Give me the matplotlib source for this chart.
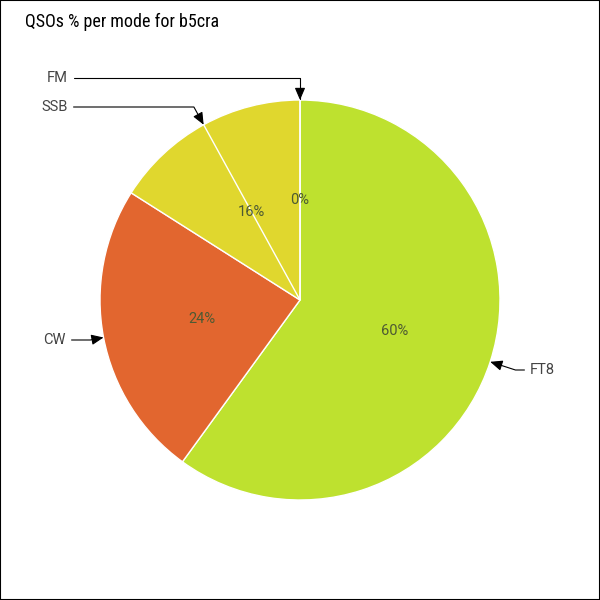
import numpy as np
import matplotlib
matplotlib.use("Agg")
import matplotlib.pyplot as plt
from matplotlib.patches import Rectangle

# datos del grafico
modos = ["FT8", "CW", "SSB", "FM"]
porcentajes = [60, 24, 16, 0]
colores = ["#bee12f", "#e2662f", "#e0d72e", "#e0d72e"]
titulo = "QSOs % per mode for b5cra"

# posicion de las etiquetas externas (pixeles de la imagen)
pos_etiquetas = {"FT8": (530, 370), "CW": (66, 340), "SSB": (68, 107), "FM": (68, 78)}

RADIO = 200
FUENTE = ["Liberation Sans Narrow", "Roboto"]

fig = plt.figure(figsize=(6, 6), dpi=100)
ax = fig.add_axes([0, 0, 1, 1])

wedges, textos, autotextos = ax.pie(
    porcentajes, colors=colores, startangle=90, counterclock=False,
    radius=RADIO, autopct="%d%%", pctdistance=0.5,
    wedgeprops=dict(edgecolor="white", linewidth=1),
    textprops=dict(color="#4d5a33", fontsize=10.5, family=FUENTE))

ax.set_xlim(-300, 300)
ax.set_ylim(-300, 300)
ax.set_aspect("equal")
ax.axis("off")

for w, modo in zip(wedges, modos):
    ang = np.deg2rad((w.theta1 + w.theta2) / 2)
    punto = (RADIO * np.cos(ang), RADIO * np.sin(ang))
    px, py = pos_etiquetas[modo]
    xt, yt = px - 300, 300 - py
    ha = "left" if xt > 0 else "right"
    ang_rad = np.rad2deg(ang) % 180
    # linea blanca en la mitad de SSB
    if modo == "SSB":
        ax.plot([0, punto[0]], [0, punto[1]], color="white", lw=1)
    ax.annotate(modo, xy=punto, xytext=(xt, yt), ha=ha, va="center",
                fontsize=10.5, color="#444444", family=FUENTE,
                arrowprops=dict(arrowstyle="-|>,head_length=0.7,head_width=0.3",
                                color="black", lw=0.8, shrinkA=2, shrinkB=0,
                                connectionstyle=f"angle,angleA=0,angleB={ang_rad:.1f},rad=0"))

fig.text(25 / 600, 1 - 22 / 600, titulo, fontsize=13, va="center", ha="left",
         family=["Roboto Condensed", "Liberation Sans Narrow", "DejaVu Sans"])

fig.add_artist(Rectangle((0, 0), 1, 1, transform=fig.transFigure, fill=False,
                         edgecolor="black", lw=1.5))

fig.savefig("out.png", dpi=100)
